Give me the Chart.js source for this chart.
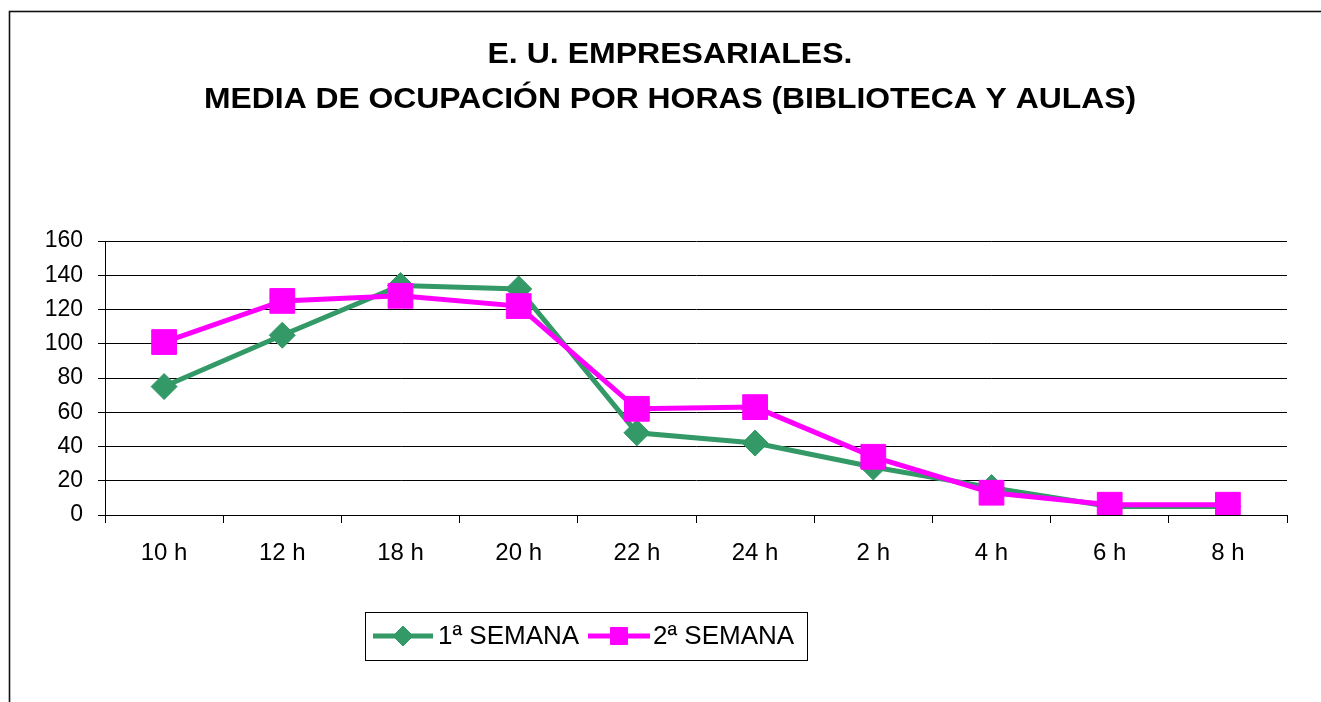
<!DOCTYPE html>
<html>
<head>
<meta charset="utf-8">
<title>E. U. Empresariales - ocupación por horas</title>
<script src="https://cdn.jsdelivr.net/npm/chart.js@4.4.1/dist/chart.umd.min.js"></script>
<style>
  html, body { margin: 0; padding: 0; background: #fff; overflow: hidden; }
  canvas { display: block; }
</style>
</head>
<body>
<canvas id="grafico" width="1321" height="702"></canvas>
<script>
// ── Datos ──────────────────────────────────────────────────────
const horas = ['10 h', '12 h', '18 h', '20 h', '22 h', '24 h', '2 h', '4 h', '6 h', '8 h'];
const semana1 = [75, 105, 134, 132, 48, 42, 28, 16, 5, 5];
const semana2 = [101, 125, 128, 122, 62, 63, 34, 13, 6, 6];
const nombres = ['1ª SEMANA', '2ª SEMANA'];
const titulo = ['E. U. EMPRESARIALES.', 'MEDIA DE OCUPACIÓN POR HORAS (BIBLIOTECA Y AULAS)'];
const yTicks = { min: 0, max: 160, step: 20 };

const VERDE = '#339966';
const MAGENTA = '#FF00FF';
const FUENTE = '"Liberation Sans", Arial, sans-serif';

// ── Marco exterior (solo se ven arriba y a la izquierda) ───────
const marco = {
  id: 'marco',
  beforeDraw(chart) {
    const ctx = chart.ctx;
    ctx.save();
    ctx.fillStyle = '#fff';
    ctx.fillRect(0, 0, chart.width, chart.height);
    ctx.strokeStyle = '#111';
    ctx.lineWidth = 1.6;
    ctx.strokeRect(9.5, 11.5, chart.width + 20, chart.height + 20);
    ctx.restore();
  }
};

// ── Título en dos líneas, algo ensanchado como en Excel ────────
const tituloPlugin = {
  id: 'tituloPlugin',
  afterDraw(chart) {
    const ctx = chart.ctx;
    const anchos = [365, 932];
    const bases = [63, 108];
    ctx.save();
    ctx.fillStyle = '#000';
    ctx.font = 'bold 29px ' + FUENTE;
    ctx.textAlign = 'center';
    ctx.textBaseline = 'alphabetic';
    titulo.forEach((t, i) => {
      const w = ctx.measureText(t).width;
      const sx = anchos[i] / w;
      ctx.save();
      ctx.translate(670, bases[i]);
      ctx.scale(sx, 1);
      ctx.fillText(t, 0, 0);
      ctx.restore();
    });
    ctx.restore();
  }
};

// ── Leyenda con línea + marcador dentro de un recuadro ─────────
const leyenda = {
  id: 'leyenda',
  afterDraw(chart) {
    const ctx = chart.ctx;
    ctx.save();
    ctx.strokeStyle = '#000';
    ctx.lineWidth = 1;
    ctx.strokeRect(365.5, 612.5, 442, 48);

    const items = [
      { x0: 373, x1: 433, color: VERDE, tipo: 'rectRot', r: 10, tx: 438 },
      { x0: 588, x1: 650, color: MAGENTA, tipo: 'rect', r: 12, tx: 653 }
    ];
    const y = 636;
    items.forEach((it, i) => {
      ctx.strokeStyle = it.color;
      ctx.lineWidth = 5;
      ctx.beginPath();
      ctx.moveTo(it.x0, y);
      ctx.lineTo(it.x1, y);
      ctx.stroke();
      ctx.fillStyle = it.color;
      ctx.lineWidth = 1;
      Chart.helpers.drawPoint(ctx, { pointStyle: it.tipo, radius: it.r, borderWidth: 1 }, (it.x0 + it.x1) / 2, y);
      ctx.fillStyle = '#000';
      ctx.font = '26px ' + FUENTE;
      ctx.textAlign = 'left';
      ctx.textBaseline = 'alphabetic';
      ctx.fillText(nombres[i], it.tx, 644);
    });
    ctx.restore();
  }
};

new Chart(document.getElementById('grafico'), {
  type: 'line',
  data: {
    labels: horas,
    datasets: [
      {
        label: nombres[0],
        data: semana1,
        borderColor: VERDE,
        backgroundColor: VERDE,
        borderWidth: 5,
        pointStyle: 'rectRot',
        pointRadius: 13,
        pointBorderWidth: 1,
        pointBackgroundColor: VERDE,
        pointBorderColor: VERDE,
        tension: 0,
        order: 1
      },
      {
        label: nombres[1],
        data: semana2,
        borderColor: MAGENTA,
        backgroundColor: MAGENTA,
        borderWidth: 5,
        pointStyle: 'rect',
        pointRadius: 17.5,
        pointBorderWidth: 1,
        pointBackgroundColor: MAGENTA,
        pointBorderColor: MAGENTA,
        tension: 0,
        order: 0
      }
    ]
  },
  options: {
    responsive: false,
    animation: false,
    layout: { padding: { left: 0, right: 34, top: 241, bottom: 127 } },
    plugins: {
      legend: { display: false },
      title: { display: false },
      tooltip: { enabled: false }
    },
    scales: {
      x: {
        type: 'category',
        offset: true,
        grid: { display: true, drawOnChartArea: false, drawTicks: true, tickLength: 8, offset: true, color: '#000' },
        border: { display: true, color: '#000', width: 1 },
        ticks: { color: '#000', font: { family: FUENTE, size: 24 }, padding: 16, maxRotation: 0, autoSkip: false },
        afterFit(scale) { scale.height = 60; }
      },
      y: {
        min: yTicks.min,
        max: yTicks.max,
        ticks: { stepSize: yTicks.step, color: '#000', font: { family: FUENTE, size: 23 }, padding: 15 },
        grid: { color: '#000', lineWidth: 1, tickLength: 7, drawTicks: true },
        border: { display: true, color: '#000', width: 1 },
        afterFit(scale) { scale.width = 105; }
      }
    }
  },
  plugins: [marco, tituloPlugin, leyenda]
});
</script>
</body>
</html>
